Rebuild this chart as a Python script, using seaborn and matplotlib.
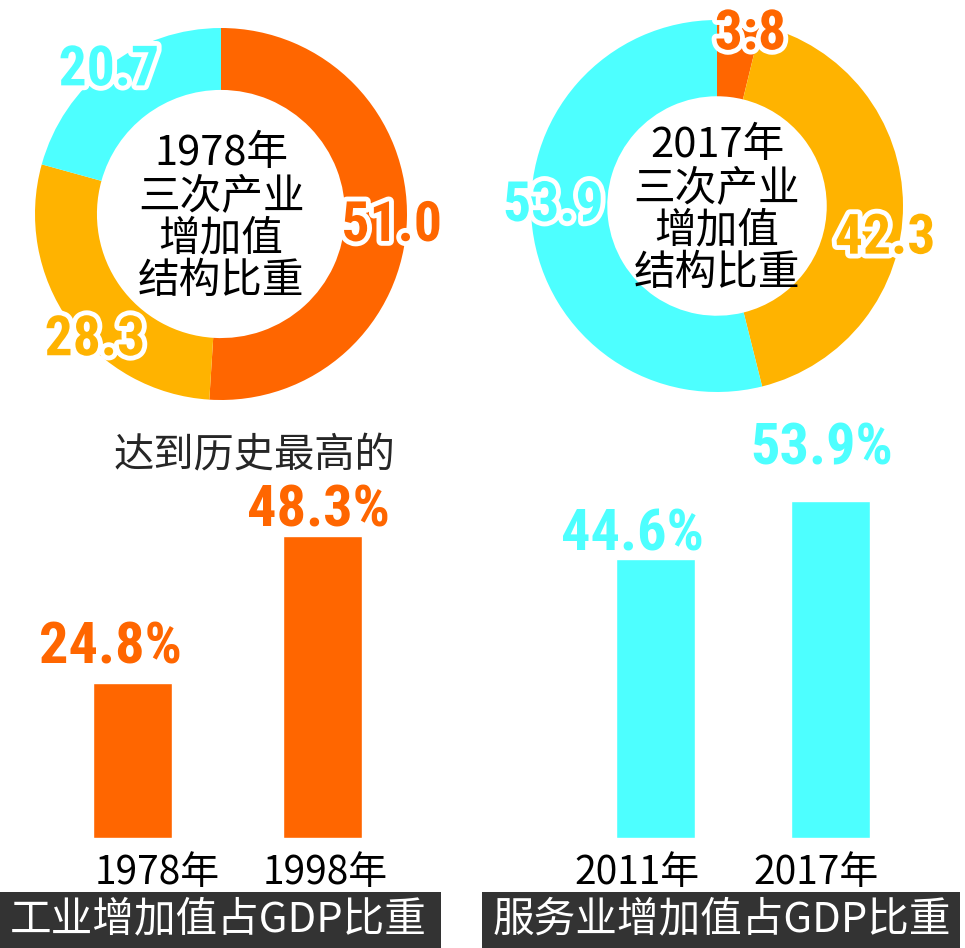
import matplotlib
matplotlib.use("Agg")
import matplotlib.pyplot as plt
import matplotlib.patheffects as pe
from matplotlib import font_manager
from matplotlib.patches import Rectangle
import numpy as np
import seaborn as sns

# donut values (clockwise from 12 o'clock)
donut_1978_values = [51.0, 28.3, 20.7]
donut_1978_labels = ["51.0", "28.3", "20.7"]
donut_2017_values = [3.8, 42.3, 53.9]
donut_2017_labels = ["3:8", "42.3", "53.9"]

# bar values
industry_years = ["1978年", "1998年"]
industry_share = [24.8, 48.3]
service_years = ["2011年", "2017年"]
service_share = [44.6, 53.9]

orange = "#FF6600"
amber = "#FFB300"
cyan = "#4DFFFF"
banner = "#333333"

sns.set_theme(style="white")
plt.rcParams["font.family"] = ["Noto Sans CJK SC", "DejaVu Sans"]

# narrow bold face for the big numbers, if one is around
names = {f.name for f in font_manager.fontManager.ttflist}
candidates = [("Liberation Sans Narrow", 43, 41, "bold"),
              ("Roboto Condensed", 42, 40, "bold"),
              ("DejaVu Sans Condensed", 33, 32, "bold"),
              ("Noto Sans CJK SC", 36, 34, "heavy")]
for num_font, bar_fs, donut_fs, num_weight in candidates:
    if num_font in names:
        break

W, H = 965, 948
fig = plt.figure(figsize=(W / 100, H / 100), dpi=100)
fig.patch.set_facecolor("white")


def box(left, top, w, h):
    return [left / W, 1 - (top + h) / H, w / W, h / H]


def donut(rect, values, labels, ring, title, label_pos):
    ax = fig.add_axes(rect)
    ax.pie(values, colors=[orange, amber, cyan], startangle=90, counterclock=False,
           wedgeprops=dict(width=ring, linewidth=0, edgecolor="none"))
    ax.set_xlim(-1, 1)
    ax.set_ylim(-1, 1)
    ax.set_aspect("equal")
    ax.axis("off")
    for txt, col, (r, ang) in zip(labels, [orange, amber, cyan], label_pos):
        a = np.deg2rad(ang)
        ax.text(r * np.cos(a), r * np.sin(a), txt, ha="center", va="center",
                fontsize=donut_fs, fontweight=num_weight, family=num_font, color=col,
                path_effects=[pe.withStroke(linewidth=7, foreground="white")],
                clip_on=False, zorder=5)
    ax.text(0, -0.02, title, ha="center", va="center", fontsize=30,
            linespacing=1.05, color="black")
    return ax


donut(box(35, 28, 372, 372), donut_1978_values, donut_1978_labels, 0.333,
      "1978年\n三次产业\n增加值\n结构比重", [(0.92, -4), (0.96, -135), (0.98, 128)])
donut(box(531, 20, 372, 372), donut_2017_values, donut_2017_labels, 0.41,
      "2017年\n三次产业\n增加值\n结构比重", [(0.94, 79), (0.92, -11), (0.88, 180)])


def bars(rect, years, vals, color, width, tick_pos, offsets):
    ax = fig.add_axes(rect)
    sns.barplot(x=years, y=vals, color=color, saturation=1, width=width, ax=ax)
    ax.set_xlim(-0.5, 1.5)
    ax.set_ylim(0, 60)
    ax.set_xticks(tick_pos, years)
    ax.tick_params(axis="x", length=0, labelsize=28, pad=11, labelcolor="black")
    ax.set_yticks([])
    ax.set_xlabel("")
    ax.set_ylabel("")
    for s in ax.spines.values():
        s.set_visible(False)
    ax.patch.set_alpha(0)
    for i, (v, (dx, dy)) in enumerate(zip(vals, offsets)):
        ax.annotate(f"{v}%", (i, v), xytext=(dx, dy), textcoords="offset pixels",
                    ha="center", va="baseline", fontsize=bar_fs, fontweight=num_weight,
                    family=num_font, color=color, annotation_clip=False)
    return ax


bars(box(37.5, 463, 380, 375), industry_years, industry_share, orange, 79 / 190,
     [0.129, 1.013], [(-22, 19), (-4, 10)])
bars(box(568, 463, 350, 375), service_years, service_share, cyan, 79 / 175,
     [-0.106, 0.917], [(-23, 9), (-9, 37)])

fig.text(254 / W, 1 - 456 / H, "达到历史最高的", ha="center", va="center", fontsize=29)

# bottom banners
fig.add_artist(Rectangle((0, 0), 441 / W, 56 / H, transform=fig.transFigure,
                         facecolor=banner, edgecolor="none"))
fig.add_artist(Rectangle((482 / W, 0), 478 / W, 56 / H, transform=fig.transFigure,
                         facecolor=banner, edgecolor="none"))
fig.text(218 / W, 28 / H, "工业增加值占GDP比重", ha="center", va="center",
         fontsize=30, color="white")
fig.text(722 / W, 28 / H, "服务业增加值占GDP比重", ha="center", va="center",
         fontsize=30, color="white")

fig.savefig("out.png", dpi=100, facecolor="white")
